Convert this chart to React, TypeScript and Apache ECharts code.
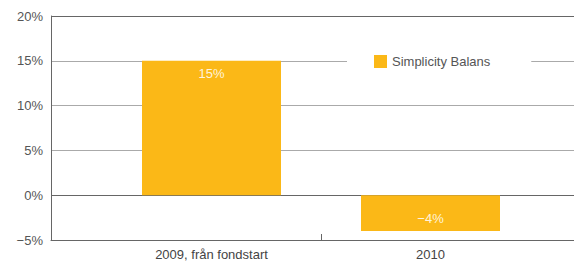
import React, { useEffect, useRef } from "react";
import * as echarts from "echarts";

const categories = ["2009, från fondstart", "2010"];
const seriesName = "Simplicity Balans";
const values = [15, -4];
const yMin = -5;
const yMax = 20;
const yStep = 5;

const fmt = (v: number) => (v < 0 ? "\u2212" + Math.abs(v) : String(v)) + "%";

export default function App() {
  const ref = useRef<HTMLDivElement>(null);
  useEffect(() => {
    if (!ref.current) return;
    const chart = echarts.init(ref.current, undefined, { renderer: "svg" });
    const xCats = [categories[0], "", categories[1]];
    const barData = [values[0], null, values[1]].map((v) =>
      v === null
        ? "-"
        : {
            value: v,
            label: { position: v >= 0 ? "insideTop" : "insideBottom", distance: 6 },
          }
    );
    chart.setOption({
      animation: false,
      textStyle: { fontFamily: "Liberation Sans, Arial, sans-serif" },
      grid: [
        { left: 51, right: 0, top: 16, bottom: 22 },
        { left: 211.5, width: 219, top: 16, bottom: 22 },
      ],
      legend: {
        data: [seriesName],
        left: 347,
        top: 52,
        backgroundColor: "#fff",
        padding: [3, 41, 3, 27],
        itemWidth: 13,
        itemHeight: 13,
        icon: "rect",
        textStyle: { color: "#555", fontSize: 13 },
      },
      xAxis: [
        {
          gridIndex: 0,
          type: "category",
          data: [""],
          axisLine: { show: true, onZero: false, lineStyle: { color: "#666", width: 1 } },
          axisTick: { show: false },
          axisLabel: { show: false },
          splitLine: { show: false },
        },
        {
          gridIndex: 1,
          type: "category",
          boundaryGap: false,
          data: xCats,
          axisLine: { show: false, onZero: false },
          axisTick: {
            show: true,
            inside: true,
            length: 6,
            interval: (i: number) => i === 1,
            lineStyle: { color: "#666" },
          },
          axisLabel: {
            interval: (i: number) => i !== 1,
            color: "#444",
            fontSize: 13,
            margin: 8,
          },
          splitLine: { show: false },
        },
      ],
      yAxis: [
        {
          gridIndex: 0,
          type: "value",
          min: yMin,
          max: yMax,
          interval: yStep,
          axisLine: { show: true, lineStyle: { color: "#666" } },
          axisTick: { show: false },
          axisLabel: {
            formatter: (v: number) => fmt(v),
            color: "#555",
            fontSize: 13,
            margin: 8,
          },
          splitLine: {
            show: true,
            lineStyle: { color: ["#666", "#666", "#aaa", "#aaa", "#aaa", "#666"], width: 1 },
          },
        },
        {
          gridIndex: 1,
          type: "value",
          min: yMin,
          max: yMax,
          interval: yStep,
          show: false,
          splitLine: { show: false },
        },
      ],
      series: [
        {
          name: seriesName,
          type: "bar",
          xAxisIndex: 1,
          yAxisIndex: 1,
          barWidth: 139,
          clip: false,
          itemStyle: { color: "#FBB817" },
          label: {
            show: true,
            color: "#FFF4DC",
            fontSize: 13,
            formatter: (p: any) => fmt(p.value),
          },
          data: barData,
        },
      ],
    });
    return () => chart.dispose();
  }, []);
  return (
    <div
      ref={ref}
      style={{ position: "absolute", left: 0, top: 0, width: 574, height: 262 }}
    />
  );
}
